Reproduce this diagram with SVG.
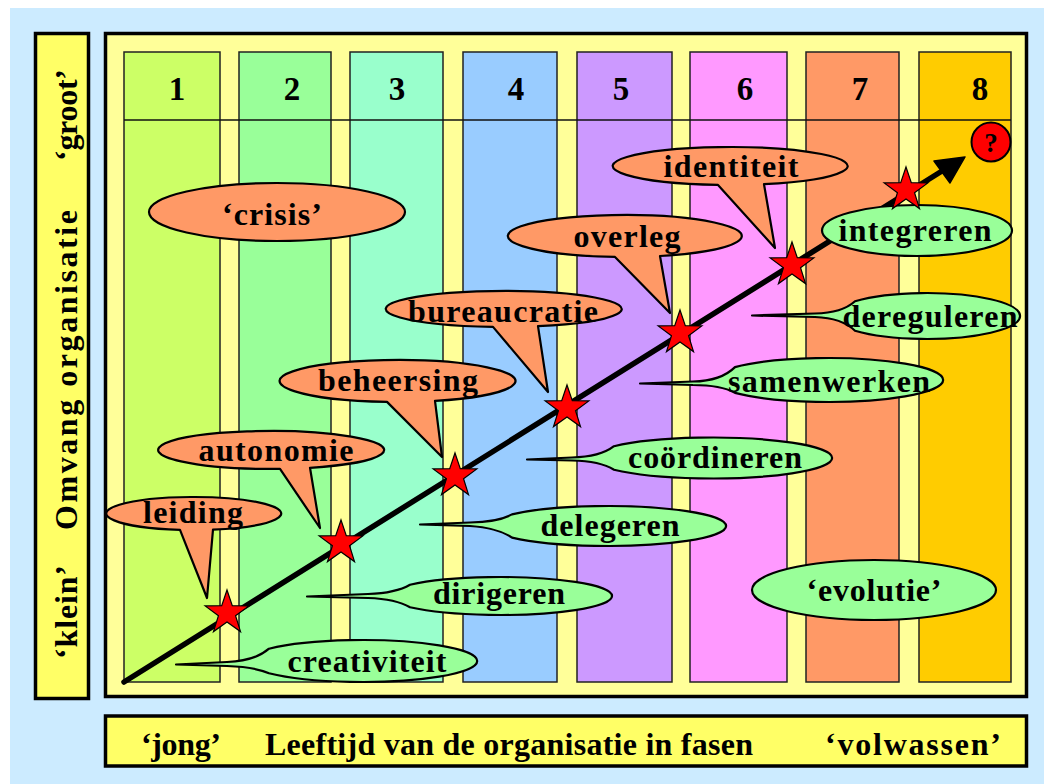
<svg xmlns="http://www.w3.org/2000/svg" width="1044" height="784" viewBox="0 0 1044 784">
  <style>
    .t { font-family: "Liberation Serif", "Times New Roman", serif; font-weight: bold; font-size: 32px; fill: #000; text-anchor: middle; }
    .num { font-family: "Liberation Serif", "Times New Roman", serif; font-weight: bold; font-size: 33px; fill: #000; text-anchor: middle; }
    .frame { stroke: #000; stroke-width: 3.5; }
    .col { stroke: #222; stroke-width: 1.5; }
    .crisis { fill: #FF9966; stroke: #000; stroke-width: 2.2; stroke-linejoin: round; }
    .evol { fill: #99FF99; stroke: #000; stroke-width: 2.2; stroke-linejoin: round; }
    .star { fill: #FF0000; stroke: #000; stroke-width: 1.2; stroke-linejoin: miter; }
  </style>
  <defs>
    <path id="star" d="M0,-23 L5.29,-7.28 L21.87,-7.11 L8.56,2.78 L13.52,18.61 L0,9 L-13.52,18.61 L-8.56,2.78 L-21.87,-7.11 L-5.29,-7.28 Z"/>
  </defs>

  <!-- page -->
  <rect x="0" y="0" width="1044" height="784" fill="#FFFFFF"/>
  <rect x="10" y="8" width="1034" height="776" fill="#CCEBFF"/>

  <!-- vertical axis box -->
  <g id="axis-y">
    <rect class="frame" x="35.5" y="33.5" width="53" height="665" fill="#FFFF66"/>
    <text class="t" transform="translate(77,612) rotate(-90)" textLength="94" lengthAdjust="spacing">‘klein’</text>
    <text class="t" transform="translate(77,370) rotate(-90)" textLength="320" lengthAdjust="spacing">Omvang organisatie</text>
    <text class="t" transform="translate(77,115) rotate(-90)" textLength="92" lengthAdjust="spacing">‘groot’</text>
  </g>

  <!-- horizontal axis box -->
  <g id="axis-x">
    <rect class="frame" x="105.5" y="716" width="921" height="50" fill="#FFFF66"/>
    <text class="t" x="181" y="755" textLength="80" lengthAdjust="spacing">‘jong’</text>
    <text class="t" x="265" y="755" style="text-anchor:start" textLength="488" lengthAdjust="spacing">Leeftijd van de organisatie in fasen</text>
    <text class="t" x="913" y="755" textLength="176" lengthAdjust="spacing">‘volwassen’</text>
  </g>

  <!-- main chart frame -->
  <g id="chart">
    <rect class="frame" x="105.5" y="33.5" width="921" height="663" fill="#FFFF99"/>
  </g>

  <!-- phase columns -->
  <g id="phases">
    <rect class="col" x="124" y="52" width="96" height="630" fill="#CCFF66"/>
    <rect class="col" x="239" y="52" width="92" height="630" fill="#99FF99"/>
    <rect class="col" x="350" y="52" width="93" height="630" fill="#99FFCC"/>
    <rect class="col" x="463" y="52" width="94" height="630" fill="#99CCFF"/>
    <rect class="col" x="577" y="52" width="95" height="630" fill="#CC99FF"/>
    <rect class="col" x="690" y="52" width="97" height="630" fill="#FF99FF"/>
    <rect class="col" x="806" y="52" width="93" height="630" fill="#FF9966"/>
    <rect class="col" x="919" y="52" width="92" height="630" fill="#FFCC00"/>
    <line x1="124" y1="120" x2="1011" y2="120" stroke="#111" stroke-width="1.5"/>
    <text class="num" x="177" y="100">1</text>
    <text class="num" x="292" y="100">2</text>
    <text class="num" x="397" y="100">3</text>
    <text class="num" x="516" y="100">4</text>
    <text class="num" x="621" y="100">5</text>
    <text class="num" x="745" y="100">6</text>
    <text class="num" x="860" y="100">7</text>
    <text class="num" x="980" y="100">8</text>
  </g>

  <!-- growth arrow -->
  <g id="connectors">
    <line x1="124" y1="682" x2="942" y2="171" stroke="#000" stroke-width="5.5" stroke-linecap="round"/>
    <polygon points="965,157 934,161 950,183" fill="#000" stroke="#000" stroke-width="1.5" stroke-linejoin="round"/>
  </g>

  <!-- crisis callouts -->
  <g id="crisis-label">
    <ellipse class="crisis" cx="277" cy="212" rx="128" ry="29"/>
    <text class="t" x="272" y="225" textLength="100" lengthAdjust="spacing">‘crisis’</text>
  </g>
  <g id="crisis-leiding">
    <path class="crisis" d="M213,529.6 A87.5 16.5 0 1 0 180,529.8 L207,598 Z"/>
    <text class="t" x="193" y="523" textLength="100" lengthAdjust="spacing">leiding</text>
  </g>
  <g id="crisis-autonomie">
    <path class="crisis" d="M310,467.8 A113 19 0 1 0 280,468.9 L320,528 Z"/>
    <text class="t" x="276" y="461" textLength="155" lengthAdjust="spacing">autonomie</text>
  </g>
  <g id="crisis-beheersing">
    <path class="crisis" d="M435,400.9 A118 21 0 1 0 387,401.9 L442,457 Z"/>
    <text class="t" x="398" y="391" textLength="160" lengthAdjust="spacing">beheersing</text>
  </g>
  <g id="crisis-bureaucratie">
    <path class="crisis" d="M538,326.2 A118 18 0 1 0 493,326.9 L548,392 Z"/>
    <text class="t" x="503" y="322" textLength="190" lengthAdjust="spacing">bureaucratie</text>
  </g>
  <g id="crisis-overleg">
    <path class="crisis" d="M660,256 A117 21 0 1 0 615,256.9 L670,313 Z"/>
    <text class="t" x="627" y="247" textLength="107" lengthAdjust="spacing">overleg</text>
  </g>
  <g id="crisis-identiteit">
    <path class="crisis" d="M764,184.2 A117.5 19 0 1 0 718,184.9 L775,248 Z"/>
    <text class="t" x="731" y="177" textLength="135" lengthAdjust="spacing">identiteit</text>
  </g>

  <!-- evolution callouts -->
  <g id="evol-creativiteit">
    <path class="evol" d="M269,648.7 A115 21 0 1 1 269,673.3 Q255,667 227,666 L176,664.5 L227,662 Q255,661 269,648.7 Z"/>
    <text class="t" x="367" y="672" textLength="159" lengthAdjust="spacing">creativiteit</text>
  </g>
  <g id="evol-dirigeren">
    <path class="evol" d="M410,584.7 A112 19 0 1 1 410,607.3 Q396,599 368,598 L307,596.5 L368,594 Q396,593 410,584.7 Z"/>
    <text class="t" x="499" y="604" textLength="132" lengthAdjust="spacing">dirigeren</text>
  </g>
  <g id="evol-delegeren">
    <path class="evol" d="M512,514.4 A118 20 0 1 1 512,537.6 Q498,528 470,526 L420,524.5 L470,522.5 Q498,522 512,514.4 Z"/>
    <text class="t" x="610" y="536" textLength="139" lengthAdjust="spacing">delegeren</text>
  </g>
  <g id="evol-coordineren">
    <path class="evol" d="M614,446.2 A120 20.5 0 1 1 614,469.8 Q600,461 572,460.5 L527,459.5 L572,457.5 Q600,457 614,446.2 Z"/>
    <text class="t" x="715" y="468" textLength="174" lengthAdjust="spacing">coördineren</text>
  </g>
  <g id="evol-samenwerken">
    <path class="evol" d="M735,367.1 A115 22 0 1 1 735,392.9 Q721,385 693,385 L640,383.5 L693,381.5 Q721,381 735,367.1 Z"/>
    <text class="t" x="829" y="392" textLength="202" lengthAdjust="spacing">samenwerken</text>
  </g>
  <g id="evol-dereguleren">
    <path class="evol" d="M855,301.2 A93.5 23 0 1 1 855,330.8 Q842,318 815,317 L752,315.5 L815,313.5 Q842,313 855,301.2 Z"/>
    <text class="t" x="930" y="327" textLength="175" lengthAdjust="spacing">dereguleren</text>
  </g>
  <g id="evol-integreren">
    <ellipse class="evol" cx="917" cy="230.5" rx="95" ry="25.5"/>
    <text class="t" x="915" y="241" textLength="153" lengthAdjust="spacing">integreren</text>
  </g>
  <g id="evol-label">
    <ellipse class="evol" cx="874" cy="590" rx="122" ry="30"/>
    <text class="t" x="874" y="601" textLength="135" lengthAdjust="spacing">‘evolutie’</text>
  </g>

  <!-- phase transitions -->
  <g id="stars">
    <use href="#star" class="star" x="227" y="613"/>
    <use href="#star" class="star" x="341" y="543"/>
    <use href="#star" class="star" x="455" y="476"/>
    <use href="#star" class="star" x="567" y="408"/>
    <use href="#star" class="star" x="680" y="333"/>
    <use href="#star" class="star" x="792" y="265"/>
    <use href="#star" class="star" x="906" y="190"/>
  </g>

  <!-- open future -->
  <g id="question">
    <circle cx="991" cy="142" r="19.5" fill="#FF0000" stroke="#000" stroke-width="2"/>
    <text class="t" x="991" y="152" style="font-size:27px">?</text>
  </g>
</svg>
